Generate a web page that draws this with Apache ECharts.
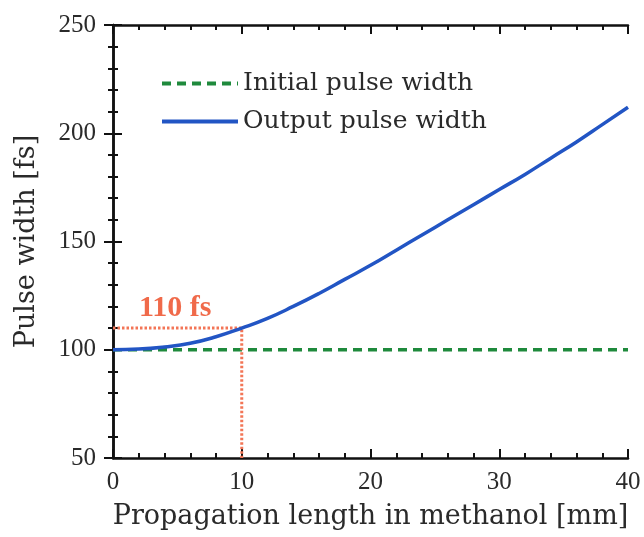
<!DOCTYPE html>
<html>
<head>
<meta charset="utf-8">
<script src="https://cdn.jsdelivr.net/npm/echarts@6/dist/echarts.min.js"></script>
<style>
  html, body { margin: 0; padding: 0; background: #ffffff; }
  #chart { width: 644px; height: 537px; }
</style>
</head>
<body>
<div id="chart"></div>
<script>
// Propagation length [mm] and pulse widths [fs]
const lengthMm = [0, 2, 4, 6, 8, 10, 12, 14, 16, 18, 20, 22, 24, 26, 28, 30, 32, 34, 36, 38, 40];
const outputWidth = [100, 100.3, 101.3, 103, 106, 110, 114.5, 120, 126, 132.5, 139, 146, 153, 160, 167, 174, 181, 188.5, 196, 204, 212];
const initialWidth = [100, 100];
const initialRange = [0, 40];
// Guide to the width reached after 10 mm
const guideX = [0, 10, 10];
const guideY = [110, 110, 50];
const guideText = '110 fs';

const xTicks = { min: 0, max: 40, interval: 10 };
const yTicks = { min: 50, max: 250, interval: 50 };

const serif = '"Liberation Serif", serif';
const wideSerif = '"DejaVu Serif", serif';
const ink = '#2a2a2a';

function frameAxis(base, extra) {
  return Object.assign({
    axisLine: { show: true, lineStyle: { color: '#111', width: 2.5 } },
    axisTick: { show: true, inside: true, length: 9, lineStyle: { color: '#111', width: 2 } },
    minorTick: { show: true, splitNumber: 5, length: 5, lineStyle: { color: '#111', width: 2 } },
    splitLine: { show: false },
    minorSplitLine: { show: false }
  }, base, extra);
}

const chart = echarts.init(document.getElementById('chart'));
chart.setOption({
  backgroundColor: '#ffffff',
  animation: false,
  grid: { left: 113, right: 16, top: 25, bottom: 79 },
  legend: {
    left: 155, top: 66, orient: 'vertical', itemGap: 13,
    itemWidth: 76, itemHeight: 12,
    itemStyle: { opacity: 0 },
    lineStyle: { width: 4 },
    textStyle: { fontFamily: wideSerif, fontSize: 25, color: ink },
    data: ['Initial pulse width', 'Output pulse width']
  },
  xAxis: [
    frameAxis(xTicks, {
      type: 'value', position: 'bottom',
      name: 'Propagation length in methanol [mm]', nameLocation: 'middle', nameGap: 45,
      nameTextStyle: { fontFamily: wideSerif, fontSize: 27, color: ink },
      axisLabel: { fontFamily: serif, fontSize: 25, color: ink, margin: 12 }
    }),
    frameAxis(xTicks, { type: 'value', position: 'top', axisLabel: { show: false } })
  ],
  yAxis: [
    frameAxis(yTicks, {
      type: 'value', position: 'left',
      name: 'Pulse width [fs]', nameLocation: 'middle', nameGap: 73,
      nameTextStyle: { fontFamily: wideSerif, fontSize: 27, color: ink },
      axisLabel: { fontFamily: serif, fontSize: 25, color: ink, margin: 17 }
    }),
    frameAxis(yTicks, { type: 'value', position: 'right', axisLabel: { show: false } })
  ],
  series: [
    {
      name: 'Initial pulse width', type: 'line', symbol: 'none', z: 3,
      data: initialRange.map((x, i) => [x, initialWidth[i]]),
      lineStyle: { color: '#1f8a3c', width: 3.5, type: [9, 6] },
      itemStyle: { color: '#1f8a3c' }
    },
    {
      name: 'guide', type: 'line', symbol: 'circle', symbolSize: 0, showSymbol: true, z: 4,
      data: guideX.map((x, i) => ({
        value: [x, guideY[i]],
        label: i === 0 ? {
          show: true, formatter: guideText, position: 'top', align: 'left',
          offset: [26, 0], fontFamily: serif, fontSize: 30, fontWeight: 'bold', color: '#f06a4a'
        } : { show: false }
      })),
      lineStyle: { color: '#f37556', width: 3, type: [2.5, 2] }
    },
    {
      name: 'Output pulse width', type: 'line', symbol: 'none', smooth: true, z: 5,
      data: lengthMm.map((x, i) => [x, outputWidth[i]]),
      lineStyle: { color: '#2255c4', width: 3.5 },
      itemStyle: { color: '#2255c4' }
    }
  ]
});
</script>
</body>
</html>
